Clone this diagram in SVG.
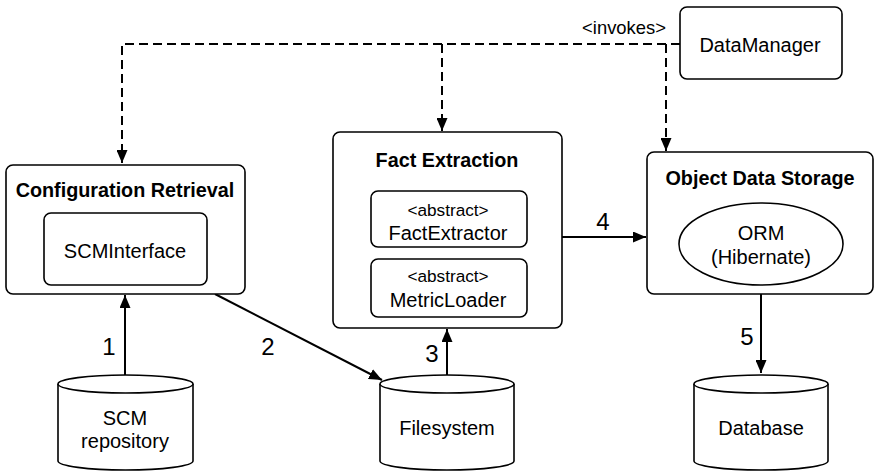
<svg xmlns="http://www.w3.org/2000/svg" width="874" height="472" viewBox="0 0 874 472">
<style>
.box{fill:#fff;stroke:#000;stroke-width:1.6}
.t{font-family:"Liberation Sans",Arial,Helvetica,sans-serif;font-size:20px;fill:#000;text-anchor:middle}
.b{font-weight:bold;font-size:19.8px}
.s{font-size:17.2px}
.i{font-size:18.4px}
.n{font-size:24px}
.c{fill:none;stroke:#000;stroke-width:2}
.d{stroke-dasharray:9 5}
</style>
<defs>
<marker id="ah" markerUnits="userSpaceOnUse" markerWidth="13" markerHeight="11" refX="13" refY="5.5" orient="auto">
<path d="M0,0 L13,5.5 L0,11 z" fill="#000"/>
</marker>
</defs>
<g id="connectors">
<path class="c d" d="M680,44 H122 V163" marker-end="url(#ah)"/>
<path class="c d" d="M442,44 V131" marker-end="url(#ah)"/>
<path class="c d" d="M666,44 V151" marker-end="url(#ah)"/>
<path class="c" d="M125,375 V295" marker-end="url(#ah)"/>
<path class="c" d="M215,294 L382,380" marker-end="url(#ah)"/>
<path class="c" d="M447,375 V329" marker-end="url(#ah)"/>
<path class="c" d="M562,237 H646" marker-end="url(#ah)"/>
<path class="c" d="M761,294 V373" marker-end="url(#ah)"/>
<text class="t i" x="624" y="34">&lt;invokes&gt;</text>
<text class="t n" x="109" y="355">1</text>
<text class="t n" x="268" y="355">2</text>
<text class="t n" x="432" y="362">3</text>
<text class="t n" x="603" y="230">4</text>
<text class="t n" x="747" y="345">5</text>
</g>
<g id="config-retrieval">
<rect class="box" x="6" y="165" width="239" height="129" rx="7"/>
<text class="t b" x="125" y="197">Configuration Retrieval</text>
</g>
<g id="scminterface">
<rect class="box" x="44" y="213" width="163" height="72" rx="7"/>
<text class="t" x="125" y="258">SCMInterface</text>
</g>
<g id="fact-extraction">
<rect class="box" x="333" y="132" width="229" height="196" rx="7"/>
<text class="t b" x="447" y="167">Fact Extraction</text>
</g>
<g id="factextractor">
<rect class="box" x="371" y="191" width="156" height="56" rx="7"/>
<text class="t s" x="448" y="216">&lt;abstract&gt;</text>
<text class="t" x="448" y="240">FactExtractor</text>
</g>
<g id="metricloader">
<rect class="box" x="371" y="259" width="156" height="58" rx="7"/>
<text class="t s" x="448" y="282">&lt;abstract&gt;</text>
<text class="t" x="448" y="307">MetricLoader</text>
</g>
<g id="object-data-storage">
<rect class="box" x="647" y="152" width="226" height="142" rx="7"/>
<text class="t b" x="760" y="185">Object Data Storage</text>
</g>
<g id="orm">
<ellipse class="box" cx="761" cy="244" rx="82" ry="41"/>
<text class="t" x="761" y="240">ORM</text>
<text class="t" x="761" y="264">(Hibernate)</text>
</g>
<g id="datamanager">
<rect class="box" x="680" y="7" width="162" height="72" rx="7"/>
<text class="t" x="760" y="52">DataManager</text>
</g>
<g id="scm-repository">
<path class="box" d="M58,384 V461 A67.5,9 0 0 0 193,461 V384"/>
<ellipse class="box" cx="125.5" cy="384" rx="67.5" ry="9"/>
<text class="t" x="125" y="425">SCM</text>
<text class="t" x="125" y="448">repository</text>
</g>
<g id="filesystem">
<path class="box" d="M380,384 V461 A67,9 0 0 0 514,461 V384"/>
<ellipse class="box" cx="447" cy="384" rx="67" ry="9"/>
<text class="t" x="447" y="435">Filesystem</text>
</g>
<g id="database">
<path class="box" d="M694,384 V461 A67,9 0 0 0 828,461 V384"/>
<ellipse class="box" cx="761" cy="384" rx="67" ry="9"/>
<text class="t" x="761" y="435">Database</text>
</g>
</svg>
